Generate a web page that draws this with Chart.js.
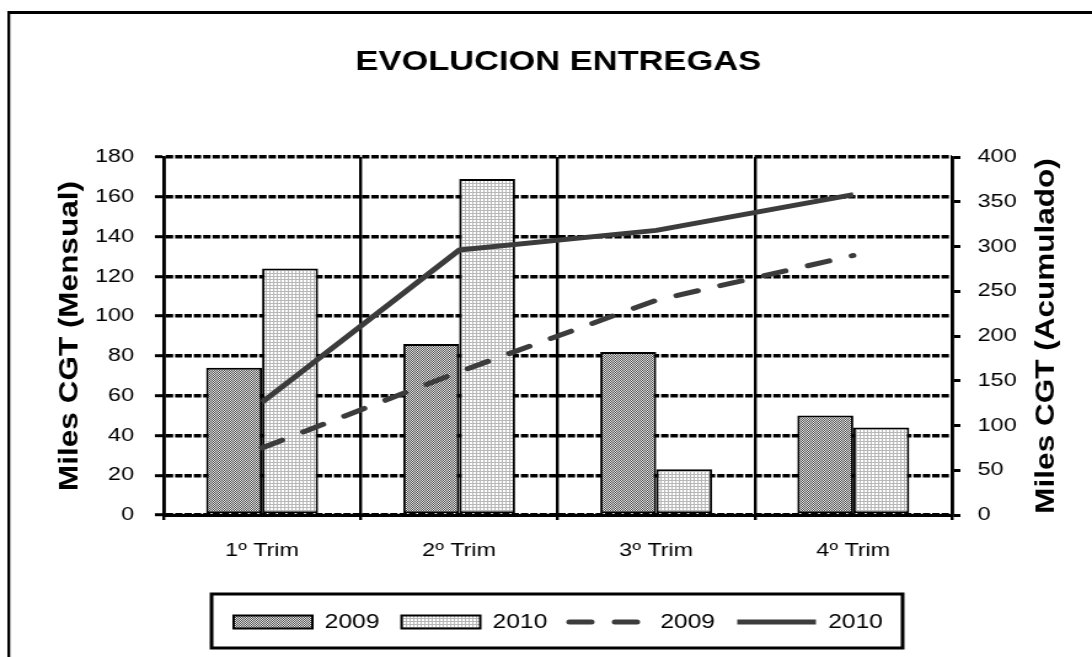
<!DOCTYPE html>
<html><head><meta charset="utf-8">
<script src="https://cdn.jsdelivr.net/npm/chart.js@4.4.0/dist/chart.umd.min.js"></script>
<style>html,body{margin:0;padding:0;background:#fff;overflow:hidden}canvas{display:block}</style>
</head><body>
<canvas id="c" width="888" height="657" style="width:1092px;height:657px;"></canvas>
<script>
// ---- data ----
const categories = ['1º Trim', '2º Trim', '3º Trim', '4º Trim'];
const seriesNames = ['2009', '2010'];
const monthly2009 = [74, 86, 82, 50];
const monthly2010 = [124, 169, 23, 44];
const cumul2009 = [75, 160, 240, 290];
const cumul2010 = [126, 296, 318, 358];
const leftAxisRange = [0, 180, 20];   // min, max, step
const rightAxisRange = [0, 400, 50];  // min, max, step
const chartTitle = 'EVOLUCION ENTREGAS';
const leftTitle = 'Miles CGT (Mensual)';
const rightTitle = 'Miles CGT (Acumulado)';

Chart.defaults.font.family = "'Liberation Sans', Arial, sans-serif";
Chart.defaults.color = '#000';

const canvas = document.getElementById('c');
const ctx = canvas.getContext('2d');

function makePattern(w, h, paint) {
  const t = document.createElement('canvas');
  t.width = w; t.height = h;
  paint(t.getContext('2d'));
  return ctx.createPattern(t, 'repeat');
}
const pat2009 = makePattern(2, 2, g => {
  g.fillStyle = '#ececec'; g.fillRect(0, 0, 2, 2);
  g.fillStyle = '#4a4a4a'; g.fillRect(0, 0, 1, 1); g.fillRect(1, 1, 1, 1);
});
const pat2010 = makePattern(3, 3, g => {
  g.fillStyle = '#ffffff'; g.fillRect(0, 0, 3, 3);
  g.fillStyle = '#b8b8b8'; g.fillRect(0, 0, 3, 1); g.fillRect(0, 0, 1, 3);
});

const PAD_BOTTOM = 15;
const AREA_BOTTOM = 515;

function drawRotTitle(c, text, x, y) {
  c.save();
  c.translate(x, y);
  c.rotate(-Math.PI / 2);
  c.scale(1, 0.72);
  c.font = "bold 31.5px 'Liberation Sans', Arial, sans-serif";
  c.textAlign = 'center';
  c.textBaseline = 'middle';
  c.fillStyle = '#000';
  c.fillText(text, 0, 0);
  c.restore();
}

const framePlugin = {
  id: 'frame',
  beforeDraw(chart) {
    const c = chart.ctx;
    c.save();
    c.fillStyle = '#fff';
    c.fillRect(0, 0, chart.width, chart.height);
    c.fillStyle = '#000';
    c.fillRect(6, 11, 2.3, chart.height);
    c.fillRect(6, 11, chart.width, 3);
    c.restore();
  },
  afterDraw(chart) {
    const c = chart.ctx;
    const ca = chart.chartArea;
    const midY = (ca.top + ca.bottom) / 2;
    drawRotTitle(c, leftTitle, 57, midY);
    drawRotTitle(c, rightTitle, 851, midY);
    const lg = chart.legend;
    if (!lg || !lg.legendHitBoxes || !lg.legendHitBoxes.length) return;
    const hb = lg.legendHitBoxes;
    const minL = Math.min(...hb.map(h => h.left));
    const maxR = Math.max(...hb.map(h => h.left + h.width));
    const cy = hb[0].top + hb[0].height / 2;
    c.save();
    c.strokeStyle = '#000';
    c.lineWidth = 3;
    c.strokeRect(minL - 18, cy - 28, (maxR - minL) + 34, 54);
    c.restore();
  }
};

new Chart(ctx, {
  type: 'bar',
  data: {
    labels: categories,
    datasets: [
      { type: 'bar', label: seriesNames[0], data: monthly2009, yAxisID: 'y',
        backgroundColor: pat2009, borderColor: '#000', borderWidth: 2, borderSkipped: false,
        categoryPercentage: 0.568, barPercentage: 1, order: 1 },
      { type: 'bar', label: seriesNames[1], data: monthly2010, yAxisID: 'y',
        backgroundColor: pat2010, borderColor: '#000', borderWidth: 2, borderSkipped: false,
        categoryPercentage: 0.568, barPercentage: 1, order: 1 },
      { type: 'line', label: seriesNames[0], data: cumul2009, yAxisID: 'y1',
        borderColor: '#3c3c3c', backgroundColor: '#3c3c3c', borderWidth: 5,
        borderDash: [18, 19], borderCapStyle: 'round', borderJoinStyle: 'round',
        pointRadius: 0, tension: 0, fill: false, order: 0 },
      { type: 'line', label: seriesNames[1], data: cumul2010, yAxisID: 'y1',
        borderColor: '#3c3c3c', backgroundColor: '#3c3c3c', borderWidth: 5,
        borderCapStyle: 'butt', borderJoinStyle: 'round',
        pointRadius: 0, tension: 0, fill: false, order: 0 }
    ]
  },
  options: {
    responsive: false,
    animation: false,
    devicePixelRatio: 1,
    layout: { padding: { left: 20, right: 0, top: 0, bottom: PAD_BOTTOM } },
    plugins: {
      tooltip: { enabled: false },
      title: {
        display: true, text: chartTitle, color: '#000',
        font: { size: 28, weight: 'bold' },
        padding: { top: 45, bottom: 78.4 }
      },
      legend: {
        position: 'bottom',
        labels: {
          usePointStyle: true, pointStyleWidth: 64, boxHeight: 13,
          color: '#000', font: { size: 20 }, padding: 18,
          sort: (a, b) => a.datasetIndex - b.datasetIndex,
          generateLabels(chart) {
            const items = Chart.defaults.plugins.legend.labels.generateLabels(chart);
            items.forEach(it => {
              const ds = chart.data.datasets[it.datasetIndex];
              if (ds.type === 'line') {
                it.pointStyle = 'line';
                it.lineDash = ds.borderDash || [];
                it.lineCap = ds.borderCapStyle;
                it.lineWidth = ds.borderWidth;
                it.strokeStyle = ds.borderColor;
              } else {
                it.pointStyle = 'rect';
                it.lineWidth = 2; it.strokeStyle = '#000'; it.lineDash = [];
              }
            });
            return items;
          }
        }
      }
    },
    scales: {
      x: {
        grid: { offset: true, color: '#000', lineWidth: 2.4, tickLength: 5, drawOnChartArea: true },
        border: { color: '#000', width: 3 },
        ticks: { color: '#000', font: { size: 19 }, padding: 19 },
        afterFit(s) {
          const lgH = (s.chart.legend && s.chart.legend.height) ? s.chart.legend.height : 48;
          s.height = s.chart.height - PAD_BOTTOM - lgH - AREA_BOTTOM;
        }
      },
      y: {
        position: 'left',
        min: leftAxisRange[0], max: leftAxisRange[1],
        ticks: { stepSize: leftAxisRange[2], color: '#000', font: { size: 19 }, padding: 17 },
        grid: { color: '#000', lineWidth: 3.4, tickLength: 7, tickBorderDash: [], tickWidth: 3 },
        border: { color: '#000', width: 2.8, dash: [6, 1.6] },
        afterFit(s) { s.width = 113; }
      },
      y1: {
        position: 'right',
        min: rightAxisRange[0], max: rightAxisRange[1],
        ticks: { stepSize: rightAxisRange[2], color: '#000', font: { size: 19 }, padding: 14 },
        grid: { drawOnChartArea: false, color: '#000', lineWidth: 3, tickLength: 7 },
        border: { color: '#000', width: 2.8 },
        afterFit(s) { s.width = 114; }
      }
    }
  },
  plugins: [framePlugin]
});
</script>
</body></html>
